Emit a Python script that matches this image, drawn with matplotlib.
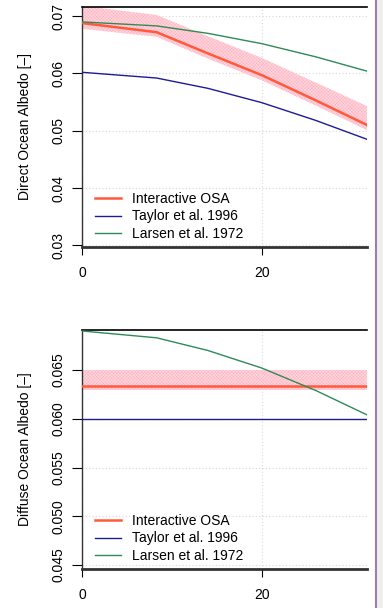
import matplotlib
matplotlib.use("Agg")
import matplotlib.pyplot as plt
from matplotlib.lines import Line2D
from matplotlib.patches import Rectangle

plt.rcParams['font.family'] = ['Liberation Sans', 'DejaVu Sans']
plt.rcParams['hatch.linewidth'] = 0.3

# wind speed samples
x = [0, 8.3, 14, 20, 26, 31.7]

# direct albedo
osa_dir = [0.0688, 0.0672, 0.0635, 0.0597, 0.0553, 0.0510]
osa_dir_hi = [0.0718, 0.0702, 0.0665, 0.0627, 0.0584, 0.0543]
osa_dir_lo = [0.0678, 0.0664, 0.0626, 0.0588, 0.0544, 0.0501]
taylor_dir = [0.0602, 0.0592, 0.0574, 0.0549, 0.0518, 0.0485]
larsen = [0.0690, 0.0683, 0.0670, 0.0652, 0.0629, 0.0604]

# diffuse albedo
osa_dif = [0.0634] * len(x)
osa_dif_hi = [0.0650] * len(x)
osa_dif_lo = [0.0629] * len(x)
taylor_dif = [0.0600] * len(x)

labels = ["Interactive OSA", "Taylor et al. 1996", "Larsen et al. 1972"]
c_osa, c_tay, c_lar = "#ff5a3c", "#1c1c96", "#2e8b57"

W, H = 383, 608
fig = plt.figure(figsize=(W / 100, H / 100), dpi=100)

def panel(rect, ylim, yticks, yfmt, ylabel, osa, lo, hi, tay):
    ax = fig.add_axes(rect)
    ax.fill_between(x, lo, hi, facecolor="#ffd6dd", edgecolor="#ffb0bf",
                    hatch="xxxxxxxxxx", linewidth=0, zorder=1)
    ax.plot(x, osa, color=c_osa, lw=1.8, label=labels[0], zorder=3)
    ax.plot(x, tay, color=c_tay, lw=1.0, label=labels[1], zorder=3)
    ax.plot(x, larsen, color=c_lar, lw=1.0, label=labels[2], zorder=3)
    ax.set_xlim(0, 31.7)
    ax.set_ylim(*ylim)
    ax.set_xticks([0, 20])
    ax.set_yticks(yticks)
    ax.set_yticklabels([yfmt % v for v in yticks], rotation=90, va="center")
    ax.grid(True, color="#d8d8d8", linestyle=(0, (1, 2)), linewidth=0.8)
    ax.set_axisbelow(True)
    ax.tick_params(axis="y", length=7, width=0.8, pad=5, labelsize=10)
    ax.tick_params(axis="x", length=6, width=0.8, pad=8, labelsize=10)
    ax.spines["right"].set_visible(False)
    ax.spines["top"].set_color("black")
    ax.spines["top"].set_linewidth(1.2)
    ax.spines["bottom"].set_color("#333333")
    ax.spines["bottom"].set_linewidth(2.0)
    ax.spines["left"].set_color("#333333")
    ax.spines["left"].set_linestyle((0, (1, 1)))
    ax.spines["left"].set_linewidth(1.0)
    ax.set_ylabel(ylabel, fontsize=10, labelpad=14)
    ax.legend(loc="lower left", frameon=False, fontsize=10,
              handlelength=1.9, handletextpad=0.8, labelspacing=0.25,
              borderaxespad=0.3, bbox_to_anchor=(0.01, -0.015))
    return ax

panel([82 / W, 1 - 247 / H, 285 / W, 240 / H], (0.0297, 0.0716),
      [0.03, 0.04, 0.05, 0.06, 0.07], "%.2f", "Direct Ocean Albedo [\u2013]",
      osa_dir, osa_dir_lo, osa_dir_hi, taylor_dir)
panel([82 / W, 1 - 569 / H, 285 / W, 239 / H], (0.0446, 0.0691),
      [0.045, 0.050, 0.055, 0.060, 0.065], "%.3f", "Diffuse Ocean Albedo [\u2013]",
      osa_dif, osa_dif_lo, osa_dif_hi, taylor_dif)

# window edge on the right
fig.add_artist(Rectangle((377 / W, 0), 6 / W, 1, transform=fig.transFigure,
                         facecolor="#eeeeee", edgecolor="none"))
fig.add_artist(Line2D([376 / W, 376 / W], [0, 1], transform=fig.transFigure,
                      color="#9a7fae", lw=1.5))

fig.savefig("out.png", dpi=100)
